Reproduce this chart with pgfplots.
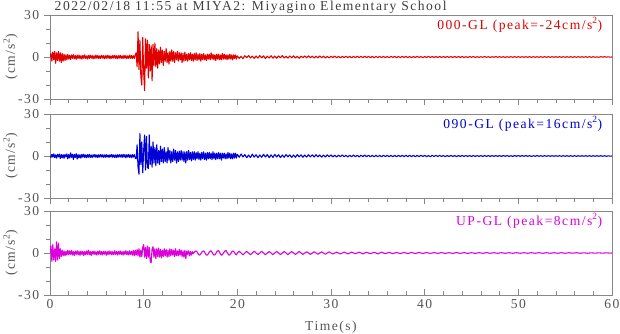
\documentclass[border=0pt]{standalone}
\usepackage{pgfplots}
\usepackage{pgfplotstable}
\pgfplotsset{compat=1.18}
\usepackage{fontspec}
\setmainfont{Liberation Serif}[LetterSpace=11]

\definecolor{eqred}{RGB}{225,0,0}
\definecolor{eqblue}{RGB}{0,0,215}
\definecolor{eqmag}{RGB}{220,0,220}
\definecolor{framegray}{RGB}{135,135,135}
\definecolor{lblgray}{RGB}{85,85,85}

% t = time (s), a = 000-GL, b = 090-GL, c = UP-GL  (cm/s^2)
\pgfplotstableread{
t a b c
0.0 0 0 0
0.1 2.5 -1 5
0.2 -3 1.2 -6
0.3 3.5 -0.8 6
0.4 -2 1.5 -5
0.5 4 -1.2 3
0.6 -4.5 0.8 -6
0.7 3 -1.5 8
0.8 -2.5 1.2 -5
0.9 4 -0.6 7
1.0 -3 1.4 -4
1.1 3 -1.8 3
1.2 -4 1 -2.5
1.3 2.5 -1.3 2
1.4 -3 0.9 -2
1.5 2 -1.6 1.5
1.6 -2.5 1.1 -2
1.7 1.5 -0.7 1.2
1.8 -2 1.5 -1.5
1.9 1.8 -2 2
2.0 -1.5 1 -1.2
2.1 1.2 -1.4 1.5
2.2 -1.8 2.2 -1
2.3 1.5 -1 1.8
2.4 -1 1.3 -1.5
2.5 1.6 -2.4 1
2.6 -1.3 1.2 -1.8
2.7 1 -1 1.3
2.8 -1.6 1.6 -1
2.9 1.3 -2.2 1.6
3.0 -1 1 -1.3
3.1 1.4 -1.3 1.1
3.2 -1.2 0.9 -1.6
3.3 0.9 -1.5 1.4
3.4 -1.5 1.1 -1
3.5 1.1 -0.8 1.2
3.6 -0.9 1.3 -1.8
3.7 1.5 -1 1
3.8 -1.2 0.8 -1.2
3.9 0.8 -1.2 1.5
4.0 -1.4 1 -1
4.1 1.2 -0.9 2
4.2 -1 1.2 -1.3
4.3 1.3 -1 1
4.4 -0.8 0.7 -1.7
4.5 1 -1.1 1.2
4.6 -1.3 0.9 -0.9
4.7 0.9 -0.7 1.4
4.8 -1.1 1.1 -1.1
4.9 1.4 -0.9 0.9
5.0 -0.9 0.8 -1.5
5.1 1.1 -1.2 1.2
5.2 -1.2 0.9 -1
5.3 0.8 -0.8 1.6
5.4 -1 1 -1.2
5.5 1.2 -0.7 1
5.6 -0.8 0.9 -1.4
5.7 1 -1 1.1
5.8 -1.3 0.8 -0.9
5.9 0.9 -0.9 1.3
6.0 -1 1 -1.6
6.1 1.3 -0.8 1
6.2 -0.9 0.7 -1.1
6.3 1 -1 1.5
6.4 -1.2 0.9 -1
6.5 0.8 -0.7 1.2
6.6 -1 1.1 -1.3
6.7 1.1 -0.9 0.9
6.8 -0.8 0.8 -1.2
6.9 1.2 -1 1.6
7.0 -1 0.8 -1
7.1 0.9 -1.2 1.1
7.2 -1.3 0.9 -1.4
7.3 1 -0.8 1.2
7.4 -0.8 1 -0.9
7.5 1.2 -0.7 1.4
7.6 -1 0.9 -1.2
7.7 0.8 -1 1
7.8 -1.1 1.2 -1.5
7.9 1.3 -0.8 1.2
8.0 -0.9 1 -1
8.1 1 -1.3 1.7
8.2 -1.2 0.9 -1.2
8.3 0.8 -0.8 1
8.4 -1 1.1 -1.4
8.5 1.3 -1 1.6
8.6 -0.9 0.8 -1.1
8.7 1.1 -1.2 1.3
8.8 -1.2 1 -1.5
8.9 0.9 -0.8 1.8
9.0 -1 1 -2
9.1 1.5 -1.5 2
9.2 3 -2 -1.5
9.3 -7 8 2.5
9.4 18 -8 -2
9.5 -9 -13 3
9.6 12 16 -3
9.7 -14 -6 2
9.8 -20 10 -2.5
9.9 14 -12 4
10.0 -11 4 6
10.1 -24 15 -3
10.2 13 -10 4
10.3 -8 14 -4
10.4 12 -8 5
10.5 -15 -9 -3
10.6 9 15 4
10.7 -10 -6 -6
10.8 8 7 -7
10.9 -17 -8 3
11.0 9 10 4.5
11.1 -6 -5 -3
11.2 10 6 3
11.3 -7 -7 -4
11.4 6 8 3
11.5 -8 -5 -2.5
11.6 5 4 3.5
11.7 -5 -6 -3
11.8 7 7 2.5
11.9 -4 -4 -3.5
12.0 5 5 2
12.1 -6 -5 -2.5
12.2 4 6 3
12.3 -3 -4 -2
12.4 6 3 2.5
12.5 -4 -5 -3
12.6 3 6 2
12.7 -5 -3 -2.5
12.8 4 4 3
12.9 -3 -5 -2
13.0 5 3 2.5
13.1 -3 -4 -1.5
13.2 4 5 2
13.3 -4 -3 -2.5
13.4 3 4 3
13.5 -2 -5 -2
13.6 4 3 1.5
13.7 -3 -4 -2
13.8 3 3.5 2.5
13.9 -2 -3 -1.5
14.0 3 4 2
14.1 -4 -3 -2.5
14.2 2.5 3 1.5
14.3 -3 -4 -3
14.4 3.5 3 2
14.5 -2.5 -5 -4
14.6 2 3 1.5
14.7 -3 -3 -1
14.8 2.5 4 1.5
14.9 -2 -2.5 -2
15.0 3 2.5 1
15.1 -2.5 -3.5 -1.5
15.2 2 3 1
15.3 -3 -2.5 -0.5
15.4 2.5 3 0.5
15.5 -2 -3 1.2
15.6 3 2.5 1.5
15.7 -2.5 -2 0.8
15.8 2 3 -0.5
15.9 -2 -2.5 -1.3
16.0 2.5 2 -1.5
16.1 -3 -3 -0.6
16.2 2 2.5 0.5
16.3 -2 -2 1.3
16.4 2.5 3 1.5
16.5 -2 -2.5 0.7
16.6 1.5 2 -0.6
16.7 -2.5 -3 -1.4
16.8 2 2.5 -1.5
16.9 -1.5 -2 -0.5
17.0 2 2.5 0.6
17.1 -2 -2 1.4
17.2 3 2 1.5
17.3 -1.5 -2.5 0.5
17.4 2 3 -0.7
17.5 -2 -2 -1.5
17.6 1.5 2 -1.3
17.7 -2.5 -2.5 -0.4
17.8 2 2 0.7
17.9 -1.5 -2 1.5
18.0 2 2.5 1.8
18.1 -2 -2 0.6
18.2 1.5 2 -0.8
18.3 -2 -3 -1.6
18.4 2.5 2 -1.2
18.5 -1.5 -1.5 -0.3
18.6 2 2 0.8
18.7 -1.5 -2 1.6
18.8 1.5 1.5 1.7
18.9 -2 -2 0.5
19.0 1.5 2.5 -0.6
19.1 -1.5 -1.5 -1.5
19.2 2 2 -1.3
19.3 -1.5 -2 -0.4
19.4 1.5 1.5 0.7
19.5 -2 -2 1.4
19.6 1.5 2 1.2
19.7 -1 -1.5 0.3
19.8 1.5 2 -0.8
19.9 -1.5 -1.5 -1.4
20.0 0.8 1.2 0
20.2 -1 -0.9 1.2
20.4 0.5 1.4 0
20.6 -1.2 -0.7 -1.3
20.8 0.9 1 0
21.0 -0.5 -1.2 1.1
21.2 1.1 0.7 0
21.4 -0.7 -1.1 -1.2
21.6 0.6 1.3 0
21.8 -1 -0.8 1.3
22.0 0.7 0.9 0
22.2 -0.8 -1.2 -1.1
22.4 1 0.7 0
22.6 -0.6 -0.9 1.2
22.8 0.8 1.2 0
23.0 -1.1 -0.7 -1.2
23.2 0.5 1 0
23.4 -0.7 -1.2 1
23.6 0.9 0.8 0
23.8 -0.8 -1 -1.2
24.0 0.6 1.1 0
24.2 -0.9 -0.7 1.1
24.4 0.7 0.9 0
24.6 -0.5 -1.1 -1.1
24.8 1 0.7 0
25.0 -0.7 -0.9 1
25.2 0.5 1 0
25.4 -0.8 -0.6 -1.2
25.6 0.7 0.8 0
25.8 -0.6 -1 1
26.0 0.8 0.7 0
26.2 -0.7 -0.9 -1
26.4 0.5 1 0
26.6 -0.9 -0.6 1.1
26.8 0.6 0.8 0
27.0 -0.5 -0.9 -1
27.2 0.7 0.7 0
27.4 -0.6 -0.8 0.9
27.6 0.8 0.9 0
27.8 -0.5 -0.6 -1
28.0 0.6 0.8 0
28.2 -0.7 -0.7 0.9
28.4 0.5 0.9 0
28.6 -0.6 -0.6 -0.9
28.8 0.7 0.7 0
29.0 -0.5 -0.8 0.8
29.2 0.6 0.6 0
29.4 -0.7 -0.7 -0.9
29.6 0.4 0.8 0
29.8 -0.6 -0.5 0.8
30.0 0.5 0.7 0
30.2 -0.4 -0.6 -0.7
30.4 0.6 0.5 0
30.6 -0.5 -0.7 0.6
30.8 0.4 0.6 0
31.0 -0.6 -0.5 -0.7
31.2 0.4 0.7 0
31.4 -0.4 -0.5 0.6
31.6 0.5 0.5 0
31.8 -0.4 -0.6 -0.6
32.0 0.4 0.5 0
32.2 -0.5 -0.5 0.6
32.4 0.4 0.6 0
32.6 -0.4 -0.5 -0.5
32.8 0.5 0.5 0
33.0 -0.4 -0.6 0.6
33.2 0.4 0.5 0
33.4 -0.4 -0.4 -0.6
33.6 0.5 0.6 0
33.8 -0.4 -0.5 0.5
34.0 0.4 0.5 0
34.2 -0.4 -0.5 -0.5
34.4 0.4 0.4 0
34.6 -0.5 -0.5 0.5
34.8 0.4 0.5 0
35.0 -0.4 -0.5 -0.6
35.2 0.4 0.4 0
35.4 -0.4 -0.5 0.6
35.6 0.4 0.5 0
35.8 -0.4 -0.4 -0.5
36.0 0.3 0.5 0
36.2 -0.4 -0.5 0.5
36.4 0.4 0.4 0
36.6 -0.3 -0.5 -0.5
36.8 0.4 0.4 0
37.0 -0.4 -0.5 0.4
37.2 0.3 0.5 0
37.4 -0.4 -0.4 -0.5
37.6 0.4 0.5 0
37.8 -0.3 -0.4 0.4
38.0 0.4 0.5 0
38.2 -0.4 -0.4 -0.4
38.4 0.3 0.5 0
38.6 -0.4 -0.4 0.4
38.8 0.3 0.4 0
39.0 -0.3 -0.5 -0.4
39.2 0.4 0.4 0
39.4 -0.3 -0.4 0.4
39.6 0.3 0.5 0
39.8 -0.4 -0.3 -0.4
40.0 0.3 0.4 0
40.2 -0.3 -0.4 0.3
40.4 0.4 0.3 0
40.6 -0.3 -0.5 -0.3
40.8 0.3 0.4 0
41.0 -0.3 -0.3 0.3
41.2 0.3 0.4 0
41.4 -0.3 -0.3 -0.3
41.6 0.3 0.4 0
41.8 -0.3 -0.3 0.3
42.0 0.3 0.3 0
42.2 -0.3 -0.4 -0.3
42.4 0.3 0.3 0
42.6 -0.3 -0.3 0.2
42.8 0.3 0.4 0
43.0 -0.3 -0.3 -0.3
43.2 0.3 0.3 0
43.4 -0.3 -0.4 0.3
43.6 0.3 0.3 0
43.8 -0.3 -0.3 -0.2
44.0 0.3 0.4 0
44.2 -0.3 -0.3 0.3
44.4 0.2 0.3 0
44.6 -0.3 -0.3 -0.3
44.8 0.3 0.3 0
45.0 -0.2 -0.3 0.2
45.2 0.3 0.3 0
45.4 -0.3 -0.3 -0.3
45.6 0.2 0.3 0
45.8 -0.3 -0.3 0.2
46.0 0.2 0.3 0
46.2 -0.2 -0.3 -0.2
46.4 0.3 0.3 0
46.6 -0.2 -0.3 0.3
46.8 0.2 0.3 0
47.0 -0.3 -0.3 -0.2
47.2 0.2 0.3 0
47.4 -0.2 -0.3 0.2
47.6 0.3 0.3 0
47.8 -0.2 -0.3 -0.2
48.0 0.2 0.3 0
48.2 -0.2 -0.3 0.2
48.4 0.2 0.3 0
48.6 -0.3 -0.2 -0.2
48.8 0.2 0.3 0
49.0 -0.2 -0.3 0.2
49.2 0.2 0.2 0
49.4 -0.2 -0.3 -0.2
49.6 0.2 0.3 0
49.8 -0.2 -0.2 0.2
50.0 0.2 0.3 0
50.2 -0.2 -0.2 -0.2
50.4 0.2 0.3 0
50.6 -0.2 -0.2 0.2
50.8 0.2 0.3 0
51.0 -0.2 -0.2 -0.2
51.2 0.2 0.2 0
51.4 -0.2 -0.3 0.2
51.6 0.2 0.2 0
51.8 -0.2 -0.2 -0.2
52.0 0.2 0.3 0
52.2 -0.2 -0.2 0.2
52.4 0.2 0.2 0
52.6 -0.2 -0.2 -0.2
52.8 0.2 0.2 0
53.0 -0.2 -0.2 0.2
53.2 0.2 0.2 0
53.4 -0.2 -0.2 -0.2
53.6 0.2 0.2 0
53.8 -0.2 -0.2 0.2
54.0 0.2 0.2 0
54.2 -0.2 -0.2 -0.2
54.4 0.2 0.2 0
54.6 -0.2 -0.2 0.2
54.8 0.2 0.2 0
55.0 -0.2 -0.2 -0.2
55.2 0.2 0.2 0
55.4 -0.2 -0.2 0.2
55.6 0.2 0.2 0
55.8 -0.2 -0.2 -0.1
56.0 0.2 0.2 0
56.2 -0.2 -0.2 0.2
56.4 0.2 0.2 0
56.6 -0.2 -0.2 -0.2
56.8 0.2 0.2 0
57.0 -0.2 -0.2 0.1
57.2 0.2 0.2 0
57.4 -0.2 -0.2 -0.2
57.6 0.2 0.2 0
57.8 -0.2 -0.2 0.1
58.0 0.2 0.2 0
58.2 -0.2 -0.2 -0.1
58.4 0.1 0.2 0
58.6 -0.2 -0.2 0.1
58.8 0.2 0.2 0
59.0 -0.1 -0.2 -0.1
59.2 0.2 0.2 0
59.4 -0.1 -0.2 0.1
59.6 0.1 0.1 0
59.8 -0.1 -0.1 -0.1
60.0 0 0 0
}\quake

\pgfplotsset{
  panel/.style={
    scale only axis, width=562pt, height=84pt,
    xmin=0, xmax=60, ymin=-30, ymax=30,
    xtick={0,10,...,60}, minor x tick num=4,
    ytick={-30,0,30}, yticklabels={-30,0,30}, minor y tick num=2,
    xtick pos=bottom, ytick pos=left,
    axis line style={framegray},
    every tick/.style={framegray, line width=0.5pt},
    major tick length=6pt, minor tick length=4pt,
    tick align=outside,
    tick label style={lblgray},
    xticklabels={},
    ylabel={(cm/s\textsuperscript{2})},
    every axis y label/.style={at={(axis description cs:-0.07,0.5)}, rotate=90, anchor=center, lblgray},
  },
  trace/.style={line width=1.1pt, line join=round},
}
\tikzset{tag/.style={anchor=base east, at={(axis description cs:0.991,0.833)}}}

\begin{document}
\fontsize{13.6}{16}\selectfont
\begin{tikzpicture}
\path[use as bounding box] (0,0) rectangle (620pt,334pt);
\node[anchor=base west, text=black!75] at (50pt,323pt) {2022/02/18 11:55 at MIYA2: Miyagino Elementary School};

\begin{axis}[panel, at={(50pt,235pt)}, anchor=south west]
  \addplot[eqred, trace] table[x=t, y=a] {\quake};
  \node[tag, text=eqred] {000-GL (peak=-24cm/s\textsuperscript{2})};
\end{axis}

\begin{axis}[panel, at={(50pt,136pt)}, anchor=south west]
  \addplot[eqblue, trace] table[x=t, y=b] {\quake};
  \node[tag, text=eqblue] {090-GL (peak=16cm/s\textsuperscript{2})};
\end{axis}

\begin{axis}[panel, at={(50pt,39pt)}, anchor=south west,
  xtick align=inside,
  xticklabels={0,10,20,30,40,50,60},
  xlabel={Time(s)},
  xlabel style={at={(axis description cs:0.5,-0.38)}, anchor=center, lblgray}]
  \addplot[eqmag, trace] table[x=t, y=c] {\quake};
  \node[tag, text=eqmag] {UP-GL (peak=8cm/s\textsuperscript{2})};
\end{axis}
\end{tikzpicture}
\end{document}
